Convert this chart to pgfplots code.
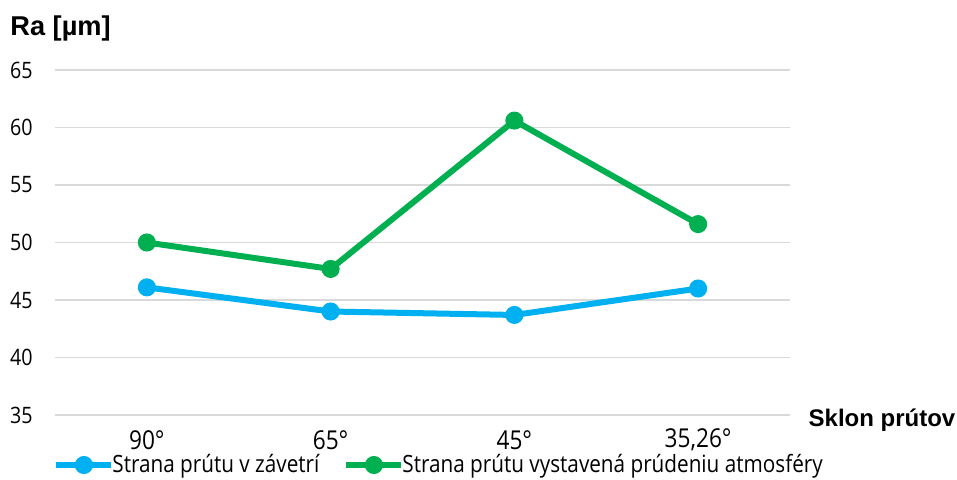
\documentclass[border=0pt]{standalone}
\usepackage{fontspec}
\setmainfont{Open Sans}[FakeStretch=0.87]
\newfontfamily\titlefont{Liberation Sans}
\usepackage{pgfplots}
\pgfplotsset{compat=1.18}

\definecolor{cblue}{HTML}{00B0F0}
\definecolor{cgreen}{HTML}{00B050}
\definecolor{cgrid}{HTML}{D9D9D9}

\begin{document}
\begin{tikzpicture}
\useasboundingbox (-27.5pt,-32pt) rectangle (451pt,207.5pt);
\begin{axis}[
    at={(0,0)}, anchor=south west,
    scale only axis,
    width=367.5pt, height=172.5pt,
    xmin=-0.5, xmax=3.5,
    ymin=35, ymax=65,
    ytick={35,40,...,65},
    xtick=data,
    xticklabels={90°,65°,45°,{35,26°}},
    axis line style={draw=none},
    tick style={draw=none},
    ymajorgrids,
    major grid style={draw=cgrid, line width=0.8pt},
    /pgf/number format/assume math mode=true,
    yticklabel style={anchor=east, inner sep=0pt, xshift=-11pt, font=\fontsize{11.3}{12}\selectfont},
    xticklabel style={anchor=center, inner sep=0pt, yshift=-12.5pt, font=\fontsize{13}{14}\selectfont},
    every axis y label/.style={at={(axis description cs:0,1)}, anchor=west, inner sep=0pt, xshift=-22.5pt, yshift=21pt},
    every axis x label/.style={at={(axis description cs:1,0)}, anchor=center, xshift=46pt, yshift=-2.5pt},
    ylabel={\titlefont\bfseries\fontsize{13.6}{15}\selectfont Ra [µm]},
    xlabel={\titlefont\bfseries\fontsize{12}{14}\selectfont Sklon prútov},
    legend columns=2,
    legend style={at={(0,0)}, anchor=west, xshift=-1pt, yshift=-25pt,
        draw=none, fill=none, inner sep=0pt,
        font=\fontsize{11.9}{13}\selectfont,
        /tikz/every even column/.append style={column sep=10pt}},
    legend cell align=left,
    legend image code/.code={
        \draw[mark repeat=2, mark phase=2, #1] plot coordinates {(0pt,0pt) (13.75pt,0pt) (27.5pt,0pt)};
    },
    every axis plot/.append style={line width=3pt, mark=*, mark size=3pt},
]
\addplot[color=cblue] coordinates {(0,46.1) (1,44.0) (2,43.7) (3,46.0)};
\addlegendentry{\hspace{-3pt}Strana prútu v závetrí}
\addplot[color=cgreen] coordinates {(0,50.0) (1,47.7) (2,60.6) (3,51.6)};
\addlegendentry{\hspace{-3pt}Strana prútu vystavená prúdeniu atmosféry}
\end{axis}
\end{tikzpicture}
\end{document}
